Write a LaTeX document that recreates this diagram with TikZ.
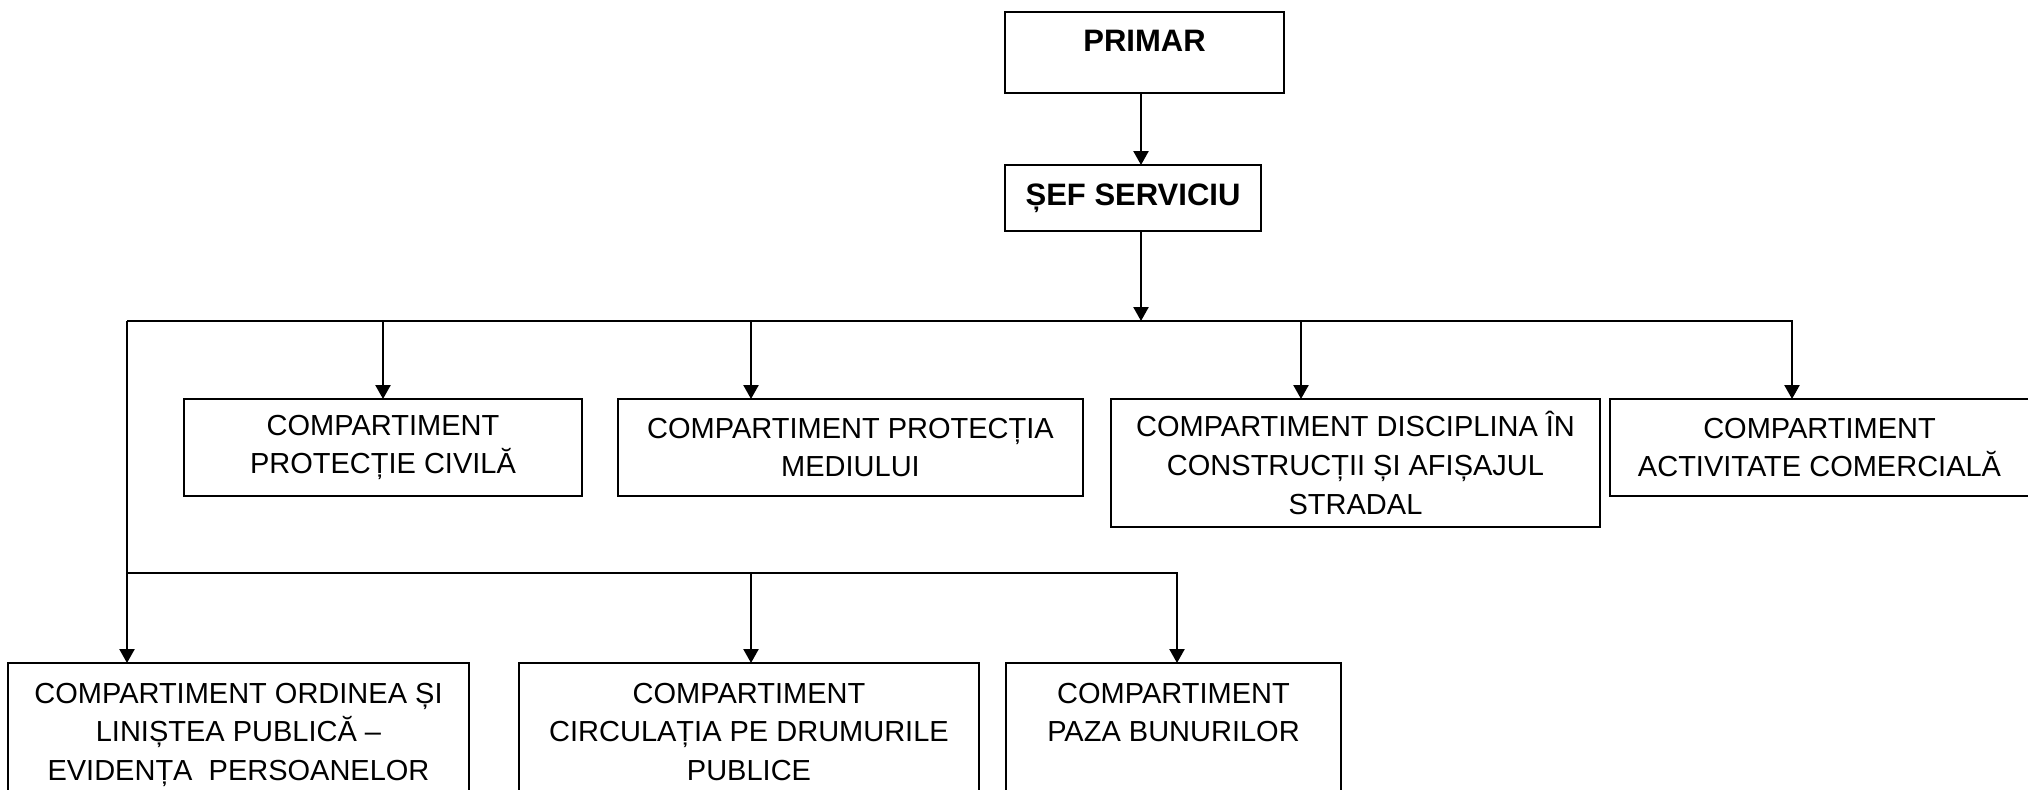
\documentclass[tikz,border=0pt]{standalone}
\usepackage{fontspec}
\setmainfont{Liberation Sans}
\usetikzlibrary{arrows.meta}
\newcommand{\topbox}[4]{\parbox[c][#2][t]{#1}{\centering\rule{0pt}{#3}#4}}
\newcommand{\midbox}[3]{\parbox[c][#2][c]{#1}{\centering #3}}
\begin{document}
\begin{tikzpicture}[x=0.5pt,y=-0.5pt,
  box/.style={draw, line width=1.1pt, inner sep=0pt, outer sep=0pt,
    font=\fontsize{14.5pt}{19.4pt}\selectfont},
  headbox/.style={box, font=\fontsize{15.5pt}{19.4pt}\selectfont\bfseries},
  arr/.style={line width=1.2pt, -{Triangle[length=7pt,width=7.5pt]}}]
\useasboundingbox (0,0) rectangle (2028,789);
\fill[white] (0,0) rectangle (2028,789);
\clip (0,0) rectangle (2028,789);

% top
\node[headbox] (primar) at (1144.5,52.5) {\topbox{139.5pt}{40.5pt}{19.5pt}{PRIMAR}};
\node[headbox] (sef) at (1133,198) {\topbox{128pt}{33pt}{20pt}{ȘEF SERVICIU}};

% row 1
\node[box] (b1) at (383,447.5) {\midbox{199pt}{48.5pt}{COMPARTIMENT\\PROTECȚIE CIVILĂ}};
\node[box] (b2) at (850.5,447.5) {\midbox{232.5pt}{48.5pt}{COMPARTIMENT PROTECȚIA\\MEDIULUI}};
\node[box, line width=1.4pt] (b3) at (1355.5,463) {\midbox{244.5pt}{64pt}{COMPARTIMENT DISCIPLINA ÎN\\CONSTRUCȚII ȘI AFIȘAJUL\\STRADAL}};
\node[box] (b4) at (1819.5,447.5) {\midbox{209.5pt}{48.5pt}{COMPARTIMENT\\ACTIVITATE COMERCIALĂ}};

% row 2
\node[box] (b5) at (238.5,763) {\topbox{230.5pt}{100pt}{20pt}{COMPARTIMENT ORDINEA ȘI\\LINIȘTEA PUBLICĂ –\\EVIDENȚA\ \ PERSOANELOR}};
\node[box] (b6) at (749,763) {\topbox{230pt}{100pt}{20pt}{COMPARTIMENT\\CIRCULAȚIA PE DRUMURILE\\PUBLICE}};
\node[box] (b7) at (1173.5,763) {\topbox{167.5pt}{100pt}{20pt}{COMPARTIMENT\\PAZA BUNURILOR}};

% junction points
\coordinate (s) at (1141,321);
\coordinate (lt) at (127,321);
\coordinate (rt) at (1792,321);
\coordinate (d1) at (383,321);
\coordinate (d2) at (751,321);
\coordinate (d3) at (1301,321);
\coordinate (l2) at (127,573);
\coordinate (m2) at (751,573);
\coordinate (r2) at (1177,573);

% connectors
\draw[arr] (primar.south -| s) -- (sef.north -| s);
\draw[arr] (sef.south -| s) -- (s);
\draw[arr] (lt) -- (rt) -- (rt |- b4.north);
\draw[arr] (d1) -- (d1 |- b1.north);
\draw[arr] (d2) -- (d2 |- b2.north);
\draw[arr] (d3) -- (d3 |- b3.north);
\draw[arr] (lt) -- (lt |- b5.north);
\draw[arr] (l2) -- (r2) -- (r2 |- b7.north);
\draw[arr] (m2) -- (m2 |- b6.north);
\end{tikzpicture}
\end{document}
